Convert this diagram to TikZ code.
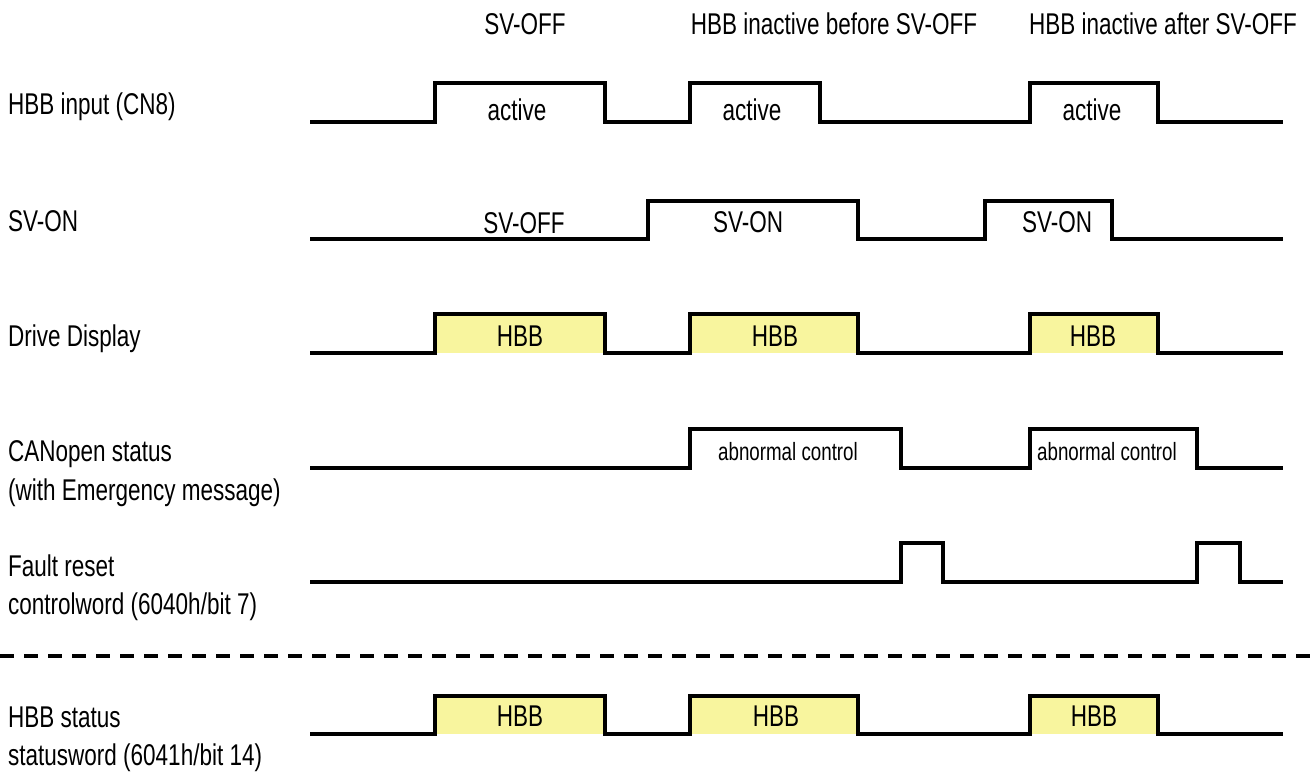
\documentclass[tikz,border=0pt]{standalone}
\usepackage{fontspec}
\setmainfont[FakeStretch=0.75]{Liberation Sans}
\definecolor{hbbyellow}{RGB}{248,245,158}
\tikzset{
  wave/.style={line width=3.4pt, line join=miter, line cap=butt},
  hbbbox/.style={fill=hbbyellow, draw=none},
  sep/.style={line width=4.5pt, dash pattern=on 14pt off 10pt},
  lbl/.style={anchor=base west, inner sep=0pt, font=\fontsize{30}{36}\selectfont},
  txt/.style={anchor=base, inner sep=0pt, font=\fontsize{30}{36}\selectfont},
  smalltxt/.style={anchor=base, inner sep=0pt, font=\fontsize{25}{30}\selectfont}
}
\begin{document}
\begin{tikzpicture}[x=1pt,y=-1pt]
\useasboundingbox (0,0) rectangle (1311,771);

% titles
\node[txt] (t1) at (525,34) {SV-OFF};
\node[txt] (t2) at (834,34) {HBB inactive before SV-OFF};
\node[txt] (t3) at (1163,34) {HBB inactive after SV-OFF};

% left labels
\node[lbl] (l1) at (8,114) {HBB input (CN8)};
\node[lbl] (l2) at (8,231) {SV-ON};
\node[lbl] (l3) at (8,346) {Drive Display};
\node[lbl] (l4a) at (8,461) {CANopen status};
\node[lbl] (l4b) at (8,500) {(with Emergency message)};
\node[lbl] (l5a) at (8,576) {Fault reset};
\node[lbl] (l5b) at (8,614) {controlword (6040h/bit 7)};
\node[lbl] (l6a) at (8,727) {HBB status};
\node[lbl] (l6b) at (8,765) {statusword (6041h/bit 14)};

% yellow fills
\foreach \a/\b in {435/605, 690/858, 1030/1158}{
  \fill[hbbbox] (\a,314) rectangle (\b,353);
  \fill[hbbbox] (\a,696) rectangle (\b,734);
}

% HBB input
\draw[wave] (310,122) -| (435,83) -| (605,122) -| (690,83) -| (820,122) -| (1030,83) -| (1158,122) -- (1283,122);
% SV-ON
\draw[wave] (310,239) -| (648,201) -| (858,239) -| (985,201) -| (1112,239) -- (1283,239);
% Drive display
\draw[wave] (310,353) -| (435,314) -| (605,353) -| (690,314) -| (858,353) -| (1030,314) -| (1158,353) -- (1283,353);
% CANopen status
\draw[wave] (310,468) -| (690,429) -| (901,468) -| (1030,429) -| (1197,468) -- (1283,468);
% Fault reset
\draw[wave] (310,582) -| (901,543) -| (943,582) -| (1197,543) -| (1240,582) -- (1283,582);
% separator
\draw[sep] (0,656) -- (1311,656);
% HBB status
\draw[wave] (310,734) -| (435,696) -| (605,734) -| (690,696) -| (858,734) -| (1030,696) -| (1158,734) -- (1283,734);

% in-wave texts
\node[txt] (a1) at (517,120) {active};
\node[txt] (a2) at (752,120) {active};
\node[txt] (a3) at (1092,120) {active};
\node[txt] (s1) at (524,233) {SV-OFF};
\node[txt] (s2) at (748,232) {SV-ON};
\node[txt] (s3) at (1057,232) {SV-ON};
\node[txt] (d1) at (520,346) {HBB};
\node[txt] (d2) at (775,346) {HBB};
\node[txt] (d3) at (1093,346) {HBB};
\node[smalltxt] (c1) at (788,460) {abnormal control};
\node[smalltxt] (c2) at (1107,460) {abnormal control};
\node[txt] (h1) at (520,726) {HBB};
\node[txt] (h2) at (776,726) {HBB};
\node[txt] (h3) at (1094,726) {HBB};
\end{tikzpicture}
\end{document}
